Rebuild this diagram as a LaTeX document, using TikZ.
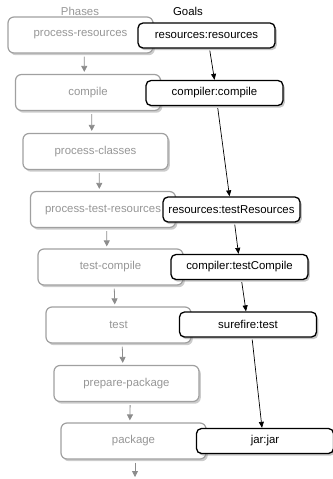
\documentclass[tikz,border=0pt]{standalone}
\usepackage{fontspec}
\setmainfont{Liberation Sans}
\usetikzlibrary{arrows.meta,shadows}
\definecolor{phasetext}{RGB}{150,150,150}
\definecolor{phaseline}{RGB}{160,160,160}
\definecolor{phasearrowgray}{RGB}{140,140,140}
\tikzset{
  lbl/.style={font=\fontsize{11.4}{13}\selectfont, inner sep=0pt},
  phase/.style={lbl, draw=phaseline, line width=1.2pt, rounded corners=6pt, fill=white,
    minimum width=145pt, minimum height=36pt, text=phasetext,
    drop shadow={shadow xshift=1.8pt, shadow yshift=-2.2pt, opacity=.4}},
  goal/.style={lbl, draw=black, line width=1.3pt, rounded corners=5pt, fill=white,
    minimum width=137pt, minimum height=25pt,
    drop shadow={shadow xshift=1.8pt, shadow yshift=-2.2pt, opacity=.45}},
  phasearrow/.style={draw=phasearrowgray, line width=0.8pt, shorten <=3pt, shorten >=2pt,
    -{Triangle[width=6pt,length=6pt]}},
  goalarrow/.style={line width=0.7pt, shorten <=2pt,
    -{Triangle[width=5pt,length=6pt]}}
}
\begin{document}
\begin{tikzpicture}[x=1pt,y=-1pt]
  \useasboundingbox (0,0) rectangle (332,479);
  \node[lbl, text=phasetext] (phases) at (80,11) {Phases};
  \node[lbl] (goals) at (188,11) {Goals};
  % phases
  \node[phase] (presources) at (80.5,35) {process-resources};
  \node[phase] (compile) at (88,92.5) {compile};
  \node[phase] (pclasses) at (95.5,151.5) {process-classes};
  \node[phase] (ptresources) at (103,209.5) {process-test-resources};
  \node[phase] (tcompile) at (110.5,267) {test-compile};
  \node[phase] (test) at (118.5,325) {test};
  \node[phase] (ppackage) at (126.5,383.5) {prepare-package};
  \node[phase] (package) at (133.5,441) {package};
  \coordinate (after) at (135,477);
  % goals
  \node[goal] (gresources) at (206.5,35.5) {resources:resources};
  \node[goal] (gcompile) at (214.5,93) {compiler:compile};
  \node[goal] (gtresources) at (231.5,209.5) {resources:testResources};
  \node[goal] (gtcompile) at (239.5,267) {compiler:testCompile};
  \node[goal] (gtest) at (248,324.5) {surefire:test};
  \node[goal] (gjar) at (265,441) {jar:jar};
  % phase order
  \draw[phasearrow] ([xshift=3.7pt]presources.south) -- ([xshift=-3.7pt]compile.north);
  \draw[phasearrow] ([xshift=3.7pt]compile.south) -- ([xshift=-3.7pt]pclasses.north);
  \draw[phasearrow] ([xshift=3.7pt]pclasses.south) -- ([xshift=-3.7pt]ptresources.north);
  \draw[phasearrow] ([xshift=3.7pt]ptresources.south) -- ([xshift=-3.7pt]tcompile.north);
  \draw[phasearrow] ([xshift=3.7pt]tcompile.south) -- ([xshift=-3.7pt]test.north);
  \draw[phasearrow] ([xshift=3.7pt]test.south) -- ([xshift=-3.7pt]ppackage.north);
  \draw[phasearrow] ([xshift=3.7pt]ppackage.south) -- ([xshift=-3.7pt]package.north);
  \draw[phasearrow, shorten >=0pt] ([xshift=1.5pt]package.south) -- (after);
  % goal order
  \draw[goalarrow] ([xshift=3pt]gresources.south) -- (gcompile.north);
  \draw[goalarrow] ([xshift=3pt]gcompile.south) -- ([xshift=-2pt]gtresources.north);
  \draw[goalarrow] ([xshift=3pt]gtresources.south) -- ([xshift=-1pt]gtcompile.north);
  \draw[goalarrow] ([xshift=2pt]gtcompile.south) -- ([xshift=-2pt]gtest.north);
  \draw[goalarrow] ([xshift=4pt]gtest.south) -- ([xshift=-3pt]gjar.north);
\end{tikzpicture}
\end{document}
